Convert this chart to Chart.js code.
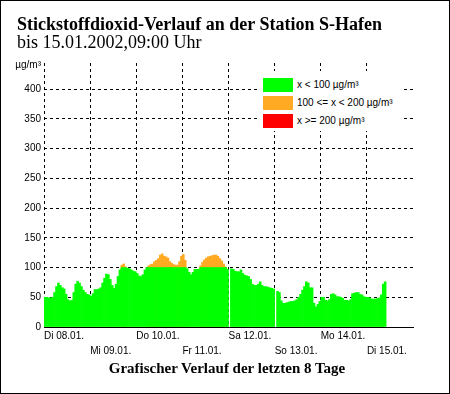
<!DOCTYPE html>
<html lang="de">
<head>
<meta charset="utf-8">
<title>Stickstoffdioxid-Verlauf S-Hafen</title>
<script src="https://cdn.jsdelivr.net/npm/chart.js@4.4.1/dist/chart.umd.min.js"></script>
<style>
  html, body { margin: 0; padding: 0; background: #fff; }
  #wrap { position: relative; width: 450px; height: 394px; overflow: hidden; background: #fff;
          font-family: "Liberation Sans", Arial, sans-serif; color: #000; }
  #frame { position: absolute; left: 0; top: 0; width: 450px; height: 394px; box-sizing: border-box;
           border: 1px solid #000; pointer-events: none; z-index: 5; }
  canvas { position: absolute; left: 0; top: 0; }
  .serif { position: absolute; font-family: "Liberation Serif", "Times New Roman", serif; white-space: nowrap; }
  #title { left: 17px; top: 15px; font-size: 18px; line-height: 18px; font-weight: bold; }
  #subtitle { left: 17px; top: 33px; font-size: 18px; line-height: 18px; }
  #footer { left: 0; width: 454px; text-align: center; top: 361px; font-size: 15px; line-height: 15px; font-weight: bold; }
  #unit { position: absolute; left: 0; width: 41px; text-align: right; top: 59px; font-size: 10px; line-height: 12px; }
  #legend { position: absolute; left: 257px; top: 71px; width: 146px; height: 60px; background: #fff; z-index: 2; }
  .sw { position: absolute; left: 6px; width: 30px; height: 14px; }
  .lt { position: absolute; left: 40px; font-size: 10px; line-height: 14px; white-space: nowrap; }
</style>
</head>
<body>
<div id="wrap">
  <canvas id="chart" width="450" height="394"></canvas>
  <div id="title" class="serif">Stickstoffdioxid-Verlauf an der Station S-Hafen</div>
  <div id="subtitle" class="serif">bis 15.01.2002,09:00 Uhr</div>
  <div id="unit">µg/m³</div>
  <div id="legend"></div>
  <div id="footer" class="serif">Grafischer Verlauf der letzten 8 Tage</div>
  <div id="frame"></div>
</div>
<script>
// Tageslabels an den Tagesgrenzen (alle 24 Stunden)
const dayLabels = ['Di 08.01.', 'Mi 09.01.', 'Do 10.01.', 'Fr 11.01.', 'Sa 12.01.', 'So 13.01.', 'Mo 14.01.', 'Di 15.01.'];

// Stundenmittel NO2 in µg/m³, ab 08.01. 00:00 (null = kein Messwert)
const values = [
  // Di 08.01.
  50, 50, 49, 49, 50, 58, 68, 74, 70, 66, 64, 55, 46, 44, 45, 58, 72, 77, 74, 68, 62, 58, 55, 54,
  // Mi 09.01.
  52, 56, 63, 63, 64, 66, 74, 82, 89, 88, 80, 70, 65, 72, 85, 96, 104, 106, 101, 99, 98, 96, 94, 93,
  // Do 10.01.
  90, 86, 85, 88, 96, 100, 103, 105, 106, 110, 112, 115, 121, 123, 119, 118, 116, 110, 107, 105, 104, 104, 110, 119,
  // Fr 11.01.
  122, 112, 98, 92, 88, 92, 97, 97, 97, 103, 109, 113, 116, 118, 119, 120, 121, 121, 119, 115, 111, 106, 101, 97,
  // Sa 12.01.
  null, 98, 97, 94, 93, 93, 96, 90, 87, 86, 85, 80, 72, 70, 70, 72, 76, 70, 68, 68, 67, 66, 65, 64,
  // So 13.01.
  null, 60, 58, 44, 40, 40, 41, 42, 43, 43, 44, 46, 50, 55, 62, 68, 76, 74, 66, 66, 40, 34, 38, 43,
  // Mo 14.01.
  50, 50, 45, 44, 46, 55, 56, 54, 51, 51, 50, 48, 45, 45, 44, 46, 56, 57, 58, 58, 55, 54, 51, 50,
  // Di 15.01. bis 09:00
  50, 49, 47, 47, 47, 48, 49, 54, 72, 76
];

// Klassengrenzen und Farben
const limits = [100, 200];
const legendLabels = ['x < 100 µg/m³', '100 <= x < 200 µg/m³', 'x >= 200 µg/m³'];
const legendColors = ['#00ff00', '#ffaa22', '#ff0000'];

// Legende bauen
const legend = document.getElementById('legend');
legendLabels.forEach(function (txt, i) {
    const top = 7 + i * 18;
    const sw = document.createElement('div');
    sw.className = 'sw';
    sw.style.top = top + 'px';
    sw.style.background = legendColors[i];
    legend.appendChild(sw);
    const lt = document.createElement('div');
    lt.className = 'lt';
    lt.style.top = top + 'px';
    lt.textContent = txt;
    legend.appendChild(lt);
});

// pro Stunde ein Balken, in die drei Klassen aufgeteilt
const greenData = values.map((v, h) => ({ x: h + 0.5, y: v == null ? null : Math.min(v, limits[0]) }));
const orangeData = values.map((v, h) => ({ x: h + 0.5, y: (v == null || v <= limits[0]) ? null : Math.min(v, limits[1]) }));
const redData = values.map((v, h) => ({ x: h + 0.5, y: (v == null || v < limits[1]) ? null : v }));

new Chart(document.getElementById('chart'), {
    type: 'bar',
    data: {
        datasets: [
            { label: legendLabels[0], data: greenData, backgroundColor: legendColors[0] },
            { label: legendLabels[1], data: orangeData, backgroundColor: legendColors[1] },
            { label: legendLabels[2], data: redData, backgroundColor: legendColors[2] }
        ]
    },
    options: {
        responsive: false,
        animation: false,
        devicePixelRatio: 1,
        layout: { padding: { top: 63, right: 37, left: 0, bottom: 0 } },
        datasets: { bar: { grouped: false, barPercentage: 1, categoryPercentage: 1, borderWidth: 0 } },
        plugins: { legend: { display: false }, tooltip: { enabled: false } },
        scales: {
            x: {
                type: 'linear',
                min: 0,
                max: dayLabels.length * 24,
                offset: false,
                afterFit: function (scale) { scale.height = 67; },
                ticks: {
                    stepSize: 24,
                    autoSkip: false,
                    maxRotation: 0,
                    align: 'start',
                    padding: 1,
                    color: '#000',
                    font: { family: '"Liberation Sans", Arial, sans-serif', size: 10, lineHeight: 1.55 },
                    callback: function (value) {
                        const i = Math.round(value / 24);
                        if (i >= dayLabels.length) return '';
                        return i % 2 === 0 ? [dayLabels[i], ''] : ['', dayLabels[i]];
                    }
                },
                grid: {
                    offset: false,
                    drawTicks: false,
                    color: function (ctx) {
                        return (ctx.tick && ctx.tick.value >= dayLabels.length * 24) ? 'rgba(0,0,0,0)' : '#000';
                    }
                },
                border: { display: true, color: '#000', width: 1, dash: [3, 3] }
            },
            y: {
                min: 0,
                max: 444,
                afterFit: function (scale) { scale.width = 44; },
                afterBuildTicks: function (scale) {
                    scale.ticks = scale.ticks.filter(t => t.value % 50 === 0);
                },
                ticks: {
                    stepSize: 50,
                    padding: 3,
                    color: '#000',
                    font: { family: '"Liberation Sans", Arial, sans-serif', size: 10 }
                },
                grid: { color: '#000', drawTicks: false },
                border: { display: false, dash: [3, 3] }
            }
        }
    }
});
</script>
</body>
</html>
